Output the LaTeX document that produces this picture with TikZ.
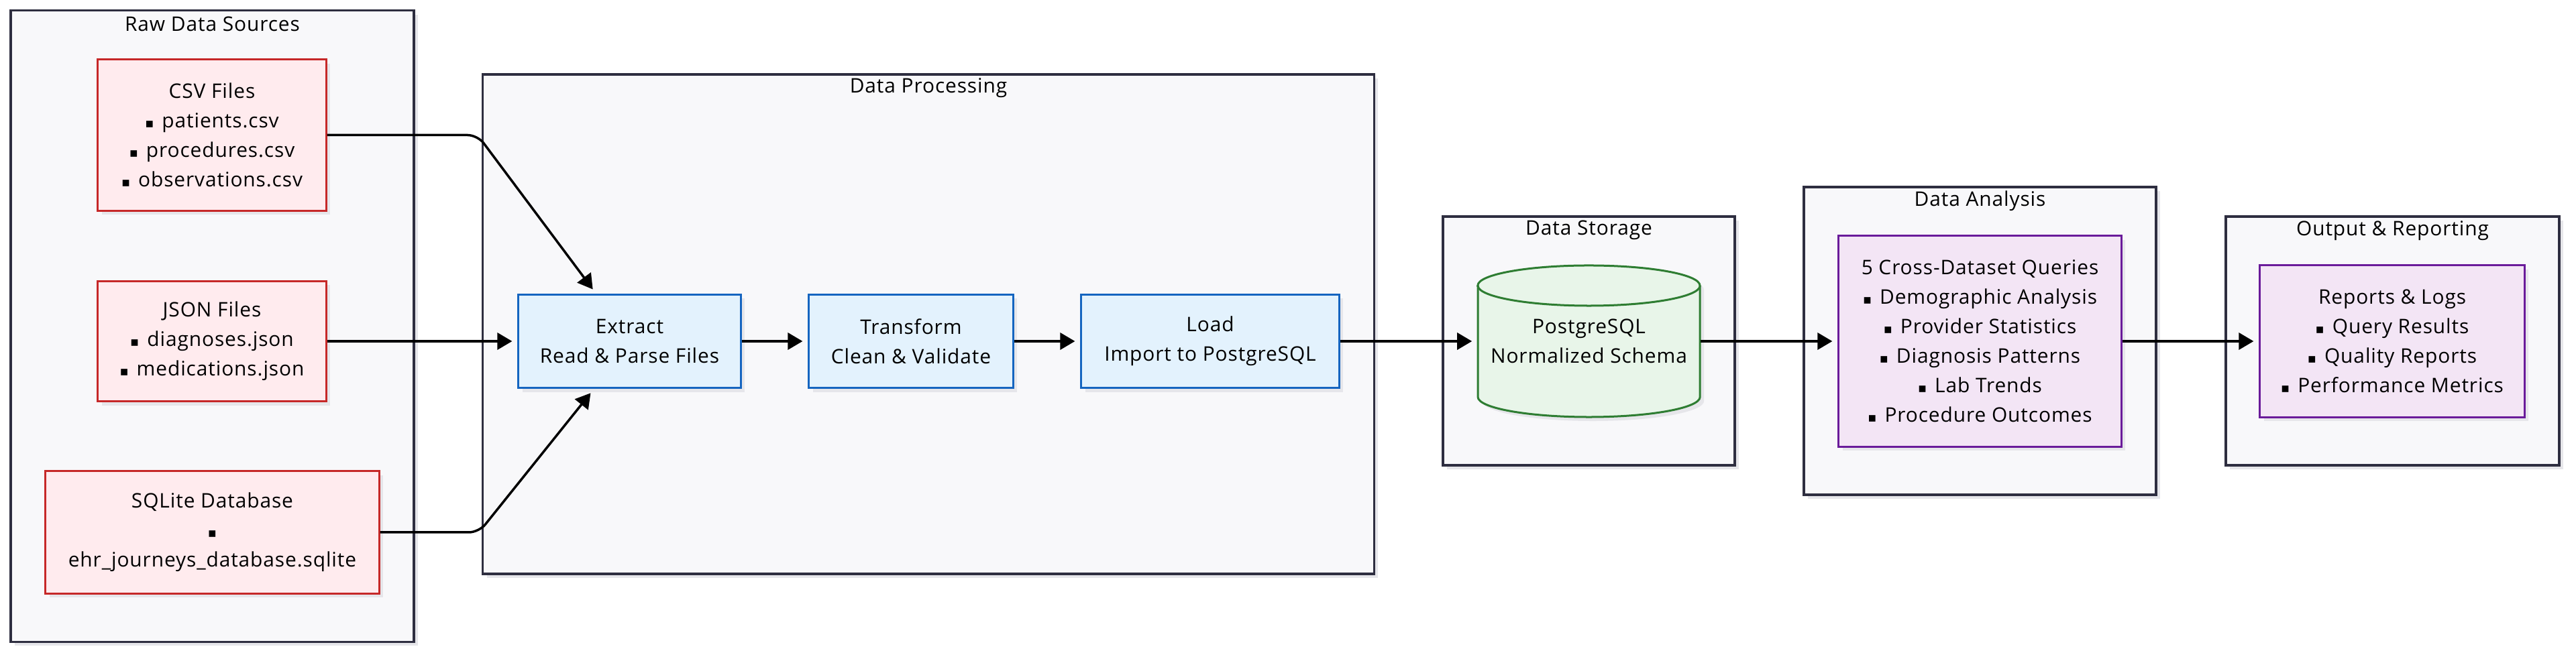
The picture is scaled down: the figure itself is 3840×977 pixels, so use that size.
\documentclass[tikz,border=0pt]{standalone}
\usepackage{fontspec}
\setmainfont{Open Sans}[LetterSpace=3]
\newfontfamily\dejavu{DejaVu Sans}
\usetikzlibrary{arrows.meta, positioning, calc, shadows}
\definecolor{groupLine}{HTML}{2E2E40}
\definecolor{groupFill}{HTML}{F8F8FA}
\definecolor{shadowGray}{HTML}{E6E6EA}
\definecolor{srcLine}{HTML}{C62828}
\definecolor{srcFill}{HTML}{FFEBEE}
\definecolor{procLine}{HTML}{1565C0}
\definecolor{procFill}{HTML}{E3F2FD}
\definecolor{dbLine}{HTML}{2E7D32}
\definecolor{dbFill}{HTML}{E8F5E9}
\definecolor{outLine}{HTML}{6A1B9A}
\definecolor{outFill}{HTML}{F3E5F5}
\newcommand{\sqb}{{\dejavu\fontsize{5.5}{5}\selectfont ▪}\hspace{0.12cm}}

\begin{document}
\begin{tikzpicture}[x=0.01cm, y=-0.01cm, >={Triangle[length=0.22cm, width=0.25cm]},
    font=\fontsize{8.5}{12.5}\selectfont,
    shade/.style={drop shadow={shadow xshift=0.06cm, shadow yshift=-0.06cm, fill=shadowGray, opacity=1}},
    group/.style={draw=groupLine, line width=0.035cm, fill=groupFill, inner sep=0pt, shade},
    gtitle/.style={inner sep=0pt},
    box/.style={line width=0.03cm, inner sep=0pt, align=center, shade},
    srcbox/.style={box, draw=srcLine, fill=srcFill},
    procbox/.style={box, draw=procLine, fill=procFill, minimum height=1.39cm},
    outbox/.style={box, draw=outLine, fill=outFill},
    flow/.style={->, line width=0.035cm, shorten >=0.08cm}]
    \fill[white] (0,0) rectangle (3840,977);
    \useasboundingbox (0,0) rectangle (3840,977);

    % containers
    \node[group, minimum width=6.01cm, minimum height=9.41cm] (raw) at (316.5,486.5) {};
    \node[group, minimum width=13.28cm, minimum height=7.45cm] (proc) at (1384,483.5) {};
    \node[group, minimum width=4.35cm, minimum height=3.71cm] (store) at (2368.5,508.5) {};
    \node[group, minimum width=5.25cm, minimum height=4.59cm] (anl) at (2951.5,508.5) {};
    \node[group, minimum width=4.97cm, minimum height=3.71cm] (outp) at (3566.5,508.5) {};

    \node[gtitle] (rawT) at ([yshift=-0.22cm]raw.north) {Raw Data Sources};
    \node[gtitle] (procT) at ([yshift=-0.225cm]proc.north) {Data Processing};
    \node[gtitle] (storeT) at ([yshift=-0.22cm]store.north) {Data Storage};
    \node[gtitle] (anlT) at ([yshift=-0.225cm]anl.north) {Data Analysis};
    \node[gtitle] (outpT) at ([yshift=-0.23cm]outp.north) {Output \& Reporting};

    % sources
    \node[srcbox, minimum width=3.40cm, minimum height=2.25cm] (csv) at (316,201.5)
        {CSV Files\\\sqb patients.csv\\\sqb procedures.csv\\\sqb observations.csv};
    \node[srcbox, minimum width=3.40cm, minimum height=1.79cm] (json) at (316,509)
        {JSON Files\\\sqb diagnoses.json\\\sqb medications.json};
    \node[srcbox, minimum width=4.97cm, minimum height=1.82cm] (sqlite) at (316.5,794)
        {SQLite Database\\\sqb\\ehr\_journeys\_database.sqlite};

    % ETL steps
    \node[procbox, minimum width=3.31cm] (extract) at (938.5,509) {Extract\\Read \& Parse Files};
    \node[procbox, minimum width=3.04cm] (transform) at (1358,509) {Transform\\Clean \& Validate};
    \node[procbox, minimum width=3.84cm] (load) at (1804,509) {Load\\Import to PostgreSQL};

    % database cylinder
    \path[fill=shadowGray, xshift=0.06cm, yshift=-0.06cm] (2203,426) -- (2203,592)
        arc[start angle=180, end angle=360, x radius=1.655cm, y radius=0.3cm] -- (2534,426)
        arc[start angle=0, end angle=180, x radius=1.655cm, y radius=0.3cm] -- cycle;
    \path[draw=dbLine, fill=dbFill, line width=0.03cm] (2203,426) -- (2203,592)
        arc[start angle=180, end angle=360, x radius=1.655cm, y radius=0.3cm] -- (2534,426)
        arc[start angle=0, end angle=180, x radius=1.655cm, y radius=0.3cm] -- cycle;
    \draw[dbLine, line width=0.03cm] (2203,426)
        arc[start angle=180, end angle=360, x radius=1.655cm, y radius=0.3cm];
    \node[inner sep=0pt, align=center, minimum width=3.31cm, minimum height=2.26cm] (db) at (2368.5,509)
        {PostgreSQL\\Normalized Schema};

    % analysis and output
    \node[outbox, minimum width=4.21cm, minimum height=3.14cm] (queries) at (2951.5,509)
        {5 Cross-Dataset Queries\\\sqb Demographic Analysis\\\sqb Provider Statistics\\\sqb Diagnosis Patterns\\\sqb Lab Trends\\\sqb Procedure Outcomes};
    \node[outbox, minimum width=3.94cm, minimum height=2.26cm] (reports) at (3566,509)
        {Reports \& Logs\\\sqb Query Results\\\sqb Quality Reports\\\sqb Performance Metrics};

    % connectors
    \coordinate (csvBend) at (712,201.5);
    \coordinate (sqlBend) at (714,794);
    \draw[flow, rounded corners=0.15cm] (csv.east) -- (csvBend) -- ([xshift=-0.5cm]extract.north);
    \draw[flow] (json.east) -- (extract.west);
    \draw[flow, rounded corners=0.15cm] (sqlite.east) -- (sqlBend) -- ([xshift=-0.53cm]extract.south);
    \draw[flow] (extract) -- (transform);
    \draw[flow] (transform) -- (load);
    \draw[flow] (load.east) -- (db.west);
    \draw[flow] (db.east) -- (queries.west);
    \draw[flow] (queries.east) -- (reports.west);
\end{tikzpicture}
\end{document}
